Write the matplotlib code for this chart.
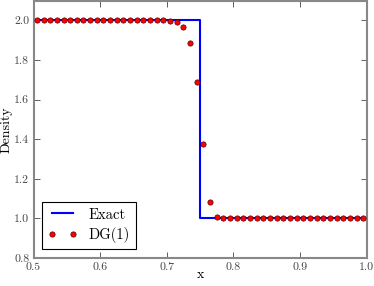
import matplotlib
matplotlib.use("Agg")
import matplotlib.pyplot as plt
import numpy as np

plt.rcParams['font.family'] = 'serif'
plt.rcParams['font.serif'] = ['cmr10', 'DejaVu Serif']
plt.rcParams['axes.formatter.use_mathtext'] = True
plt.rcParams['mathtext.fontset'] = 'cm'

exact_x = [0.5, 0.75, 0.75, 1.0]
exact_y = [2.0, 2.0, 1.0, 1.0]

dg_x = [0.505 + 0.01 * i for i in range(50)]
dg_y = ([2.0] * 20 +
        [1.998, 1.99, 1.967, 1.887, 1.69, 1.375, 1.085, 1.005] +
        [1.0] * 22)

fig = plt.figure(figsize=(3.74, 2.86), dpi=100)
ax = fig.add_axes([0.0896, 0.098, 0.891, 0.9])

ax.plot(exact_x, exact_y, color='#0000ff', lw=1.5, label='Exact', zorder=2)
ax.plot(dg_x, dg_y, 'o', color='red', markeredgecolor='#550000', markeredgewidth=0.5,
        markersize=3.8, label='DG(1)', zorder=3)

ax.set_xlim(0.5, 1.0)
ax.set_ylim(0.8, 2.1)
ax.set_xticks([0.5, 0.6, 0.7, 0.8, 0.9, 1.0])
ax.set_yticks([0.8, 1.0, 1.2, 1.4, 1.6, 1.8, 2.0])
ax.set_xticklabels(['0.5', '0.6', '0.7', '0.8', '0.9', '1.0'])
ax.set_yticklabels(['0.8', '1.0', '1.2', '1.4', '1.6', '1.8', '2.0'])
ax.tick_params(direction='in', top=True, right=True, labelsize=8.5, length=4,
               width=0.6, colors='#444444', labelcolor='#444444', pad=3)
for s in ax.spines.values():
    s.set_color('#888888')
    s.set_linewidth(1.5)

ax.set_xlabel('x', fontsize=10, labelpad=-2)
ax.set_ylabel('Density', fontsize=10, labelpad=1)

leg = ax.legend(loc='lower left', numpoints=2, fontsize=10.5, fancybox=False,
                framealpha=1, edgecolor='black', borderaxespad=0.6,
                handlelength=2.0, borderpad=0.4, labelspacing=0.4)
leg.get_frame().set_linewidth(0.8)

fig.savefig('out.png', dpi=100)
